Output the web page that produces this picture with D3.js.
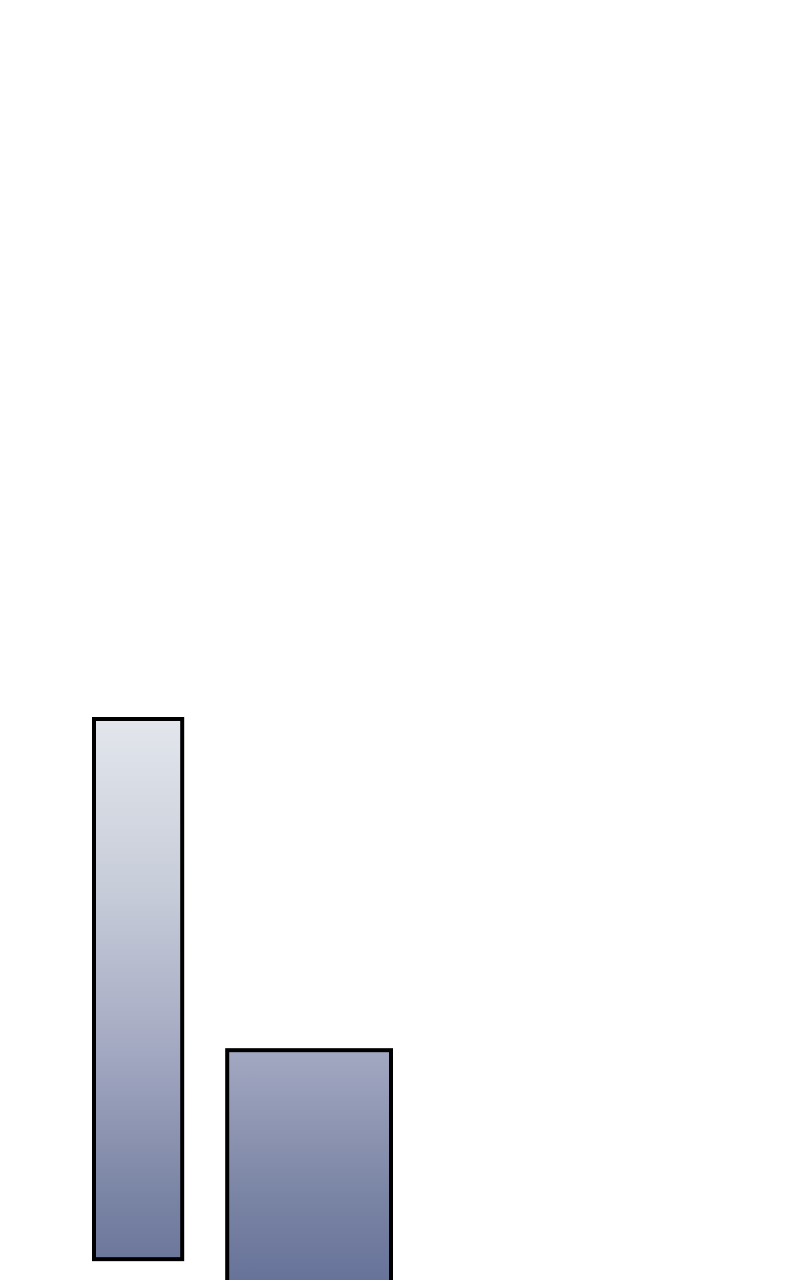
<!DOCTYPE html>
<html>
<head>
<meta charset="utf-8">
<script src="https://cdn.jsdelivr.net/npm/d3@7"></script>
<style>
  html, body { margin: 0; padding: 0; background: #ffffff; }
  svg { display: block; }
</style>
</head>
<body>
<script>
// Data: floating bars with variable widths
const categories = ["A", "B"];
const lowValues = [5.4, 0];
const highValues = [100, 42];
const widthValues = [35, 65];

const W = 800, H = 1280;
const svg = d3.select("body").append("svg").attr("width", W).attr("height", H);

const y = d3.scaleLinear().domain([0, 100]).range([1290, 719]);
const totalW = d3.sum(widthValues);
const x = d3.scaleLinear().domain([0, totalW]).range([0, 252]);
const left = 94, gap = 45;

const data = categories.map((c, i) => ({
  c, lo: lowValues[i], hi: highValues[i], w: widthValues[i],
  off: d3.sum(widthValues.slice(0, i))
}));

const defs = svg.append("defs");
const grad = defs.append("linearGradient")
  .attr("id", "g").attr("gradientUnits", "userSpaceOnUse")
  .attr("x1", 0).attr("x2", 0).attr("y1", y(100)).attr("y2", 1280);
[[0, "#e3e6ec"], [0.3, "#c7cdd9"], [0.58, "#a5aac3"], [0.85, "#7a84a4"], [1, "#68739a"]]
  .forEach(([o, c]) => grad.append("stop").attr("offset", o).attr("stop-color", c));

svg.selectAll("rect.bar").data(data).enter().append("rect")
  .attr("class", "bar")
  .attr("x", (d, i) => left + x(d.off) + i * gap)
  .attr("width", d => x(d.w))
  .attr("y", d => y(d.hi))
  .attr("height", d => y(d.lo) - y(d.hi))
  .attr("fill", "url(#g)")
  .attr("stroke", "#000")
  .attr("stroke-width", 4);
</script>
</body>
</html>
